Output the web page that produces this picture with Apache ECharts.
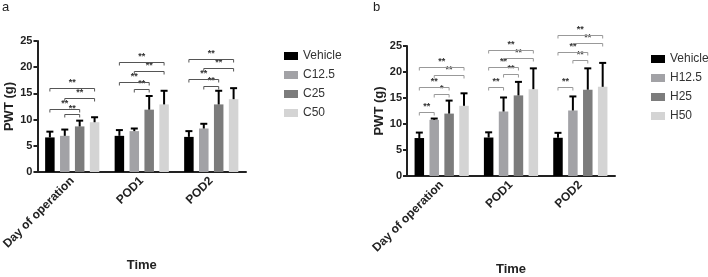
<!DOCTYPE html>
<html>
<head>
<meta charset="utf-8">
<script src="https://cdn.jsdelivr.net/npm/echarts@6/dist/echarts.min.js"></script>
<style>
html,body{margin:0;padding:0;background:#fff}
#chart{width:708px;height:277px}
</style>
</head>
<body>
<div id="chart"></div>
<script>
var categories = ['Day of operation', 'POD1', 'POD2'];

// panel a
var aNames = ['Vehicle', 'C12.5', 'C25', 'C50'];
var aVehicle = [6.6, 6.9, 6.7];
var aC125 = [6.9, 7.8, 8.3];
var aC25 = [8.7, 11.9, 12.9];
var aC50 = [9.5, 12.9, 13.9];
var aVehicleSd = [1.1, 1.1, 1.1];
var aC125Sd = [1.2, 0.5, 0.9];
var aC25Sd = [1.1, 2.6, 2.6];
var aC50Sd = [0.95, 2.6, 2.1];
// [category, from bar, to bar, level, label]
var aBrackets = [
	[0, 1, 2, 11.1, '**'], [0, 0, 2, 12.1, '**'], [0, 1, 3, 14.2, '**'], [0, 0, 3, 16.0, '**'],
	[1, 1, 2, 15.8, '**'], [1, 0, 2, 17.2, '**'], [1, 1, 3, 19.2, '**'], [1, 0, 3, 20.9, '**'],
	[2, 1, 2, 16.5, '**'], [2, 0, 2, 17.8, '**'], [2, 1, 3, 19.9, '**'], [2, 0, 3, 21.5, '**']
];

// panel b
var bNames = ['Vehicle', 'H12.5', 'H25', 'H50'];
var bVehicle = [7.3, 7.4, 7.35];
var bH125 = [10.8, 12.4, 12.6];
var bH25 = [12.0, 15.5, 16.6];
var bH50 = [13.5, 16.7, 17.15];
var bVehicleSd = [1.05, 1.0, 0.95];
var bH125Sd = [0.25, 2.7, 2.7];
var bH25Sd = [2.5, 2.6, 4.1];
var bH50Sd = [2.4, 4.0, 4.6];
var bBrackets = [
	[0, 0, 1, 12.4, '**'], [0, 1, 2, 15.8, '*'], [0, 0, 2, 17.1, '**'], [0, 1, 3, 19.4, '**'], [0, 0, 3, 20.9, '**'],
	[1, 0, 1, 17.1, '**'], [1, 1, 2, 19.7, '**'], [1, 0, 2, 21.0, '**'], [1, 1, 3, 22.7, '**'], [1, 0, 3, 24.3, '**'],
	[2, 0, 1, 17.1, '**'], [2, 1, 2, 22.4, '**'], [2, 0, 2, 23.8, '**'], [2, 1, 3, 25.6, '**'], [2, 0, 3, 27.2, '**']
];

var yTicks = [0, 5, 10, 15, 20, 25];

var colors = ['#000000', '#a2a2a6', '#7c7c7c', '#d4d4d4'];
var BAR_W = 9.5;
var BAR_PITCH = 14.9;
var FONT = '"Liberation Sans", Arial, sans-serif';

var chart = echarts.init(document.getElementById('chart'));

function offsetOf(i){
	return (i - 1.5) * BAR_PITCH;
}

function barSeries(names, values, idx){
	return names.map(function(n, i){
		return {
			name: n, type: 'bar', xAxisIndex: idx, yAxisIndex: idx,
			data: values[i], barWidth: BAR_W, barGap: ((BAR_PITCH - BAR_W) / BAR_W * 100) + '%',
			itemStyle: {color: colors[i]}, z: 2
		};
	});
}

function errSeries(values, sds, idx){
	var data = [];
	for(var c = 0; c < categories.length; c++){
		for(var i = 0; i < values.length; i++){
			data.push([c, i, values[i][c], sds[i][c]]);
		}
	}
	return {
		type: 'custom', xAxisIndex: idx, yAxisIndex: idx, data: data, z: 3, clip: false,
		silent: true,
		renderItem: function(params, api){
			var base = api.coord([api.value(0), api.value(2)]);
			var top = api.coord([api.value(0), api.value(2) + api.value(3)]);
			var x = base[0] + offsetOf(api.value(1));
			var st = {stroke: '#000', lineWidth: 2};
			return {type: 'group', children: [
				{type: 'line', shape: {x1: x, y1: base[1], x2: x, y2: top[1]}, style: st},
				{type: 'line', shape: {x1: x - 3.5, y1: top[1], x2: x + 3.5, y2: top[1]}, style: st}
			]};
		}
	};
}

function bracketSeries(brackets, idx, lineColor){
	return {
		type: 'custom', xAxisIndex: idx, yAxisIndex: idx, z: 4, clip: false, silent: true,
		data: brackets.map(function(b){ return [b[0], b[1], b[2], b[3]]; }),
		renderItem: function(params, api){
			var p = api.coord([api.value(0), api.value(3)]);
			var x1 = p[0] + offsetOf(api.value(1));
			var x2 = p[0] + offsetOf(api.value(2));
			var y = Math.round(p[1]) + 0.5;
			var st = {stroke: lineColor, lineWidth: 1, fill: null};
			return {type: 'group', children: [
				{type: 'polyline', shape: {points: [[x1, y + 3], [x1, y], [x2, y], [x2, y + 3]]}, style: st},
				{type: 'text', style: {text: brackets[params.dataIndex][4], x: (x1 + x2) / 2, y: y - 1,
					align: 'center', verticalAlign: 'bottom', fill: '#333', font: 'bold 9px ' + FONT}}
			]};
		}
	};
}

function xAxisOf(idx){
	return {
		type: 'category', gridIndex: idx, data: categories,
		name: 'Time', nameLocation: 'middle', nameGap: 87,
		nameTextStyle: {fontFamily: FONT, fontWeight: 'bold', fontSize: 13, color: '#222'},
		axisLine: {lineStyle: {color: '#222', width: 2}},
		axisTick: {alignWithLabel: true, length: 4, lineStyle: {color: '#222', width: 2}},
		axisLabel: {rotate: 45, fontFamily: FONT, fontWeight: 'bold', fontSize: 12, color: '#222', margin: 7}
	};
}

function yAxisOf(idx){
	return {
		type: 'value', gridIndex: idx, min: yTicks[0], max: yTicks[yTicks.length - 1], interval: 5,
		name: 'PWT (g)', nameLocation: 'middle', nameGap: 21,
		nameTextStyle: {fontFamily: FONT, fontWeight: 'bold', fontSize: 13, color: '#222'},
		splitLine: {show: false},
		axisLine: {show: true, lineStyle: {color: '#222', width: 2}},
		axisTick: {show: true, length: 4, lineStyle: {color: '#222', width: 2}},
		axisLabel: {fontFamily: FONT, fontWeight: 'bold', fontSize: 11, color: '#222', margin: 5}
	};
}

var option = {
	animation: false,
	backgroundColor: '#fff',
	grid: [
		{left: 31, top: 41, width: 215, height: 142},
		{left: 407, top: 46, width: 208, height: 137}
	],
	xAxis: [xAxisOf(0), xAxisOf(1)],
	yAxis: [yAxisOf(0), yAxisOf(1)],
	legend: [
		{data: aNames, orient: 'vertical', left: 279, top: 45, itemWidth: 14, itemHeight: 8, itemGap: 7,
			icon: 'rect', textStyle: {fontFamily: FONT, fontSize: 12, color: '#333'}, selectedMode: false},
		{data: bNames, orient: 'vertical', left: 646, top: 48, itemWidth: 14, itemHeight: 8, itemGap: 7,
			icon: 'rect', textStyle: {fontFamily: FONT, fontSize: 12, color: '#333'}, selectedMode: false}
	],
	graphic: [
		{type: 'text', left: 2, top: 1, style: {text: 'a', font: '13px ' + FONT, fill: '#222'}},
		{type: 'text', left: 373, top: 1, style: {text: 'b', font: '13px ' + FONT, fill: '#222'}}
	],
	series: [].concat(
		barSeries(aNames, [aVehicle, aC125, aC25, aC50], 0),
		barSeries(bNames, [bVehicle, bH125, bH25, bH50], 1),
		[errSeries([aVehicle, aC125, aC25, aC50], [aVehicleSd, aC125Sd, aC25Sd, aC50Sd], 0),
		 errSeries([bVehicle, bH125, bH25, bH50], [bVehicleSd, bH125Sd, bH25Sd, bH50Sd], 1),
		 bracketSeries(aBrackets, 0, '#555'),
		 bracketSeries(bBrackets, 1, '#999')]
	)
};

chart.setOption(option);
</script>
</body>
</html>
